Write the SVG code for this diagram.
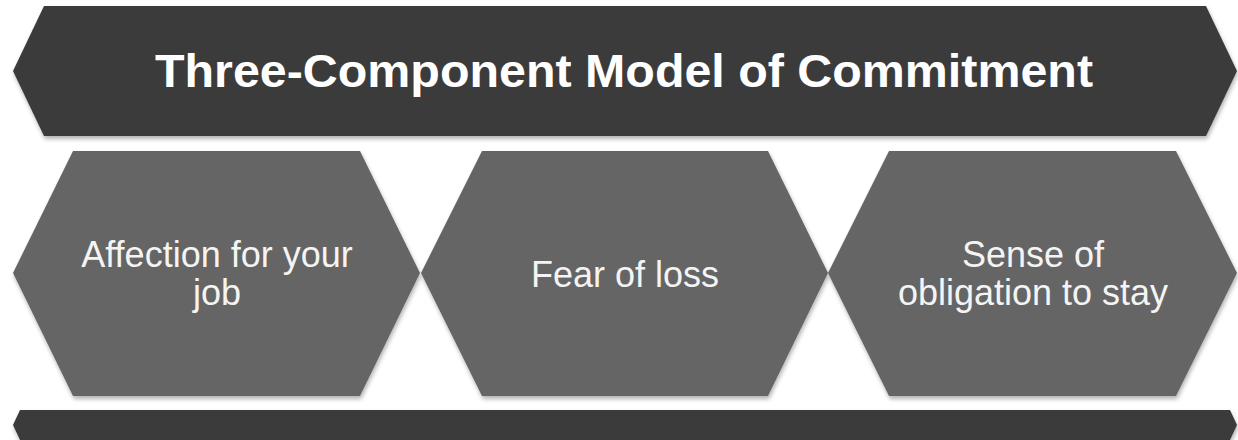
<svg xmlns="http://www.w3.org/2000/svg" width="1238" height="440" viewBox="0 0 1238 440">
  <style>
    .banner { fill: #3b3b3b; filter: url(#shadow); }
    .hex { fill: #656565; filter: url(#shadow); }
    .title { font-family: "Liberation Sans", Arial, sans-serif; font-weight: bold; font-size: 47px; fill: #ffffff; text-anchor: middle; }
    .label { font-family: "Liberation Sans", Arial, sans-serif; font-size: 36px; fill: #f4f4f4; text-anchor: middle; }
  </style>
  <defs>
    <filter id="shadow" x="-5%" y="-10%" width="110%" height="125%">
      <feDropShadow dx="1" dy="3" stdDeviation="2" flood-color="#000000" flood-opacity="0.3"/>
    </filter>
  </defs>
  <rect width="1238" height="440" fill="#ffffff"/>

  <g id="title-banner">
    <polygon class="banner" points="44,6 1206,6 1237,71 1206,136 44,136 13,71"/>
    <text class="title" x="624" y="87" textLength="938" lengthAdjust="spacingAndGlyphs">Three-Component Model of Commitment</text>
  </g>

  <g id="affective">
    <polygon class="hex" points="73,151 360,151 420,273 360,396 73,396 13,273"/>
    <text class="label" x="217" y="267">Affection for your</text>
    <text class="label" x="217" y="305">job</text>
  </g>

  <g id="continuance">
    <polygon class="hex" points="482,151 768,151 828,273 768,396 482,396 421,273"/>
    <text class="label" x="625" y="287">Fear of loss</text>
  </g>

  <g id="normative">
    <polygon class="hex" points="889,151 1176,151 1237,273 1176,396 889,396 828,273"/>
    <text class="label" x="1033" y="267">Sense of</text>
    <text class="label" x="1033" y="305">obligation to stay</text>
  </g>

  <g id="base-banner">
    <polygon class="banner" points="20,410 1230,410 1237,425 1230,440 20,440 13,425"/>
  </g>

  <g id="connectors"></g>
</svg>
